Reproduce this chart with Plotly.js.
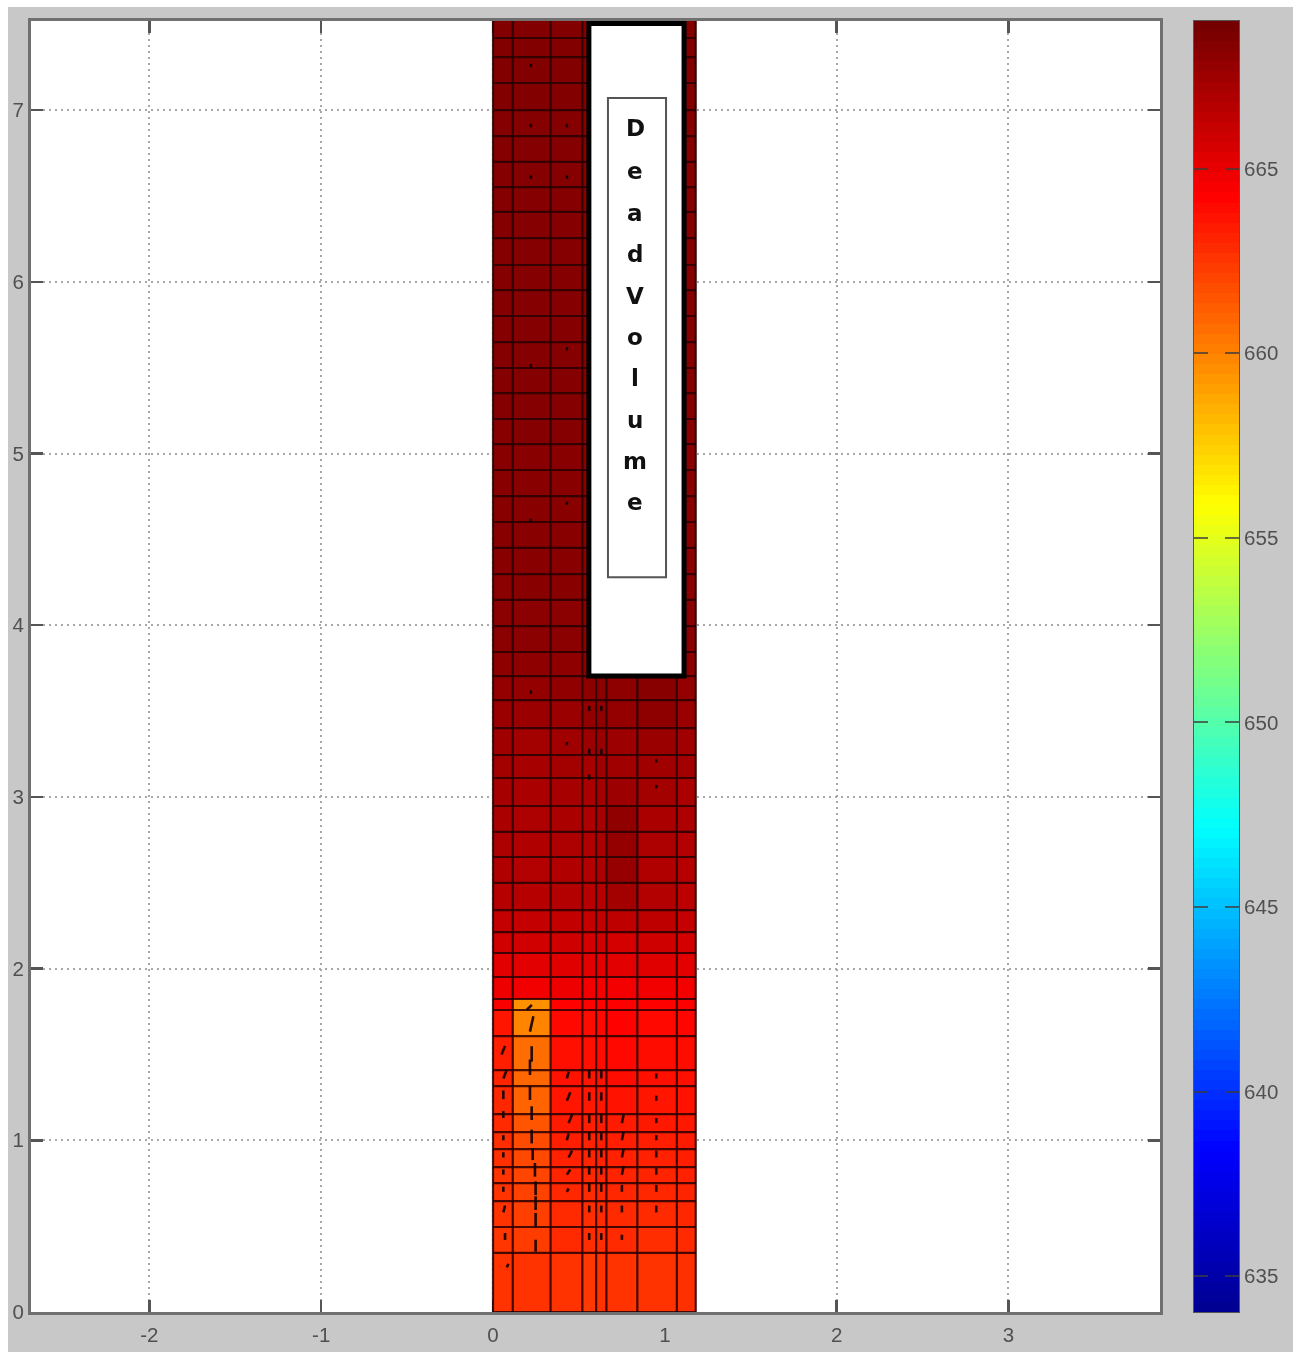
<!DOCTYPE html>
<html>
<head>
<meta charset="utf-8">
<script src="https://cdn.plot.ly/plotly-3.0.1.min.js"></script>
<style>
html,body{margin:0;padding:0;background:#fff;width:1298px;height:1356px;overflow:hidden}
#bg{position:absolute;left:8px;top:7px;width:1285px;height:1345px;background:#c8c8c8}
#chart{position:absolute;left:0;top:0;width:1298px;height:1356px;filter:blur(0.6px)}
</style>
</head>
<body>
<div id="bg"></div>
<div id="chart"></div>
<script>
const xEdges=[0,0.115,0.335,0.52,0.6,0.66,0.84,1.07,1.18];
const yEdges=[0,0.344,0.495,0.646,0.751,0.844,0.949,1.048,1.153,1.316,1.409,1.607,1.759,1.823,1.951,2.091,2.213,2.341,2.499,2.65,2.796,2.947,3.11,3.244,3.401,3.564,3.704,3.844,3.995,4.147,4.298,4.45,4.601,4.752,4.904,5.055,5.201,5.352,5.498,5.649,5.801,5.952,6.098,6.255,6.407,6.552,6.698,6.849,7.0,7.158,7.309,7.42,7.525];
const cellValues=[
[662.6,662.6,662.6,662.4,662.6,662.6,662.6,662.7],
[662.5,662.3,662.9,662.8,662.8,662.9,662.8,662.9],
[662.6,662.2,662.9,662.8,662.9,662.9,662.9,663.0],
[662.6,662.1,663.0,662.9,663.0,663.0,663.0,663.1],
[662.6,662.0,663.1,663.0,663.1,663.1,663.1,663.2],
[662.7,661.9,663.2,663.1,663.2,663.2,663.2,663.3],
[662.8,661.8,663.3,663.2,663.3,663.3,663.3,663.4],
[662.9,661.5,663.4,663.3,663.4,663.4,663.5,663.5],
[663.0,661.0,663.6,663.5,663.6,663.7,663.6,663.7],
[663.1,660.9,663.7,663.6,663.7,663.9,663.8,663.8],
[663.3,660.7,663.8,663.8,663.9,664.0,663.9,663.9],
[663.6,659.9,664.0,663.9,664.0,664.2,664.0,664.1],
[664.4,659.5,664.2,664.2,664.2,664.3,664.2,664.3],
[664.8,664.7,664.8,664.6,664.6,664.6,664.7,664.6],
[665.2,665.2,665.3,665.2,665.2,665.2,665.3,665.2],
[665.8,665.8,665.9,665.7,665.8,665.7,665.9,665.7],
[666.2,666.2,666.3,666.2,666.3,666.4,666.4,666.2],
[666.7,666.7,666.8,666.6,666.7,667.3,666.8,666.5],
[666.9,666.8,666.9,666.8,667.0,667.7,666.9,666.7],
[667.0,666.9,667.0,666.9,667.1,667.8,667.0,666.8],
[667.1,667.0,667.1,667.0,667.2,667.9,667.1,667.0],
[667.2,667.1,667.2,667.1,667.3,667.5,667.3,667.1],
[667.3,667.2,667.3,667.2,667.4,667.4,667.4,667.3],
[667.4,667.3,667.4,667.5,667.6,667.5,667.6,667.4],
[667.6,667.6,667.6,667.8,667.9,667.8,668.0,667.6],
[667.8,667.8,667.9,668.0,668.1,668.0,668.2,667.8],
[668.0,668.0,668.0,668.1,668.1,668.1,668.1,668.0],
[668.1,668.1,668.1,668.1,668.1,668.1,668.1,668.1],
[668.1,668.1,668.1,668.1,668.1,668.1,668.1,668.1],
[668.1,668.2,668.2,668.1,668.1,668.1,668.1,668.1],
[668.2,668.2,668.2,668.1,668.1,668.1,668.1,668.1],
[668.2,668.2,668.2,668.2,668.1,668.1,668.1,668.2],
[668.2,668.2,668.2,668.2,668.2,668.2,668.2,668.2],
[668.2,668.2,668.2,668.2,668.2,668.2,668.2,668.2],
[668.2,668.2,668.2,668.2,668.2,668.2,668.2,668.2],
[668.2,668.3,668.3,668.2,668.2,668.2,668.2,668.2],
[668.3,668.3,668.3,668.2,668.2,668.2,668.2,668.3],
[668.3,668.3,668.3,668.3,668.3,668.3,668.3,668.3],
[668.3,668.3,668.3,668.3,668.3,668.3,668.3,668.3],
[668.3,668.3,668.3,668.3,668.3,668.3,668.3,668.3],
[668.3,668.3,668.3,668.3,668.3,668.3,668.3,668.3],
[668.3,668.3,668.3,668.3,668.3,668.3,668.3,668.3],
[668.3,668.3,668.3,668.3,668.3,668.3,668.3,668.3],
[668.3,668.3,668.3,668.3,668.3,668.3,668.3,668.3],
[668.3,668.3,668.3,668.3,668.3,668.3,668.3,668.3],
[668.3,668.3,668.3,668.3,668.3,668.3,668.3,668.3],
[668.3,668.3,668.3,668.3,668.3,668.3,668.3,668.3],
[668.3,668.3,668.3,668.3,668.3,668.3,668.3,668.3],
[668.4,668.4,668.4,668.4,668.4,668.4,668.4,668.4],
[668.4,668.4,668.4,668.4,668.4,668.4,668.4,668.4],
[668.4,668.4,668.4,668.4,668.4,668.4,668.4,668.4],
[668.4,668.4,668.4,668.4,668.4,668.4,668.4,668.4]
];
const zMin=634.03, zMax=669.0;
const jet=[[0,'#00008f'],[0.125,'#0000ff'],[0.375,'#00ffff'],[0.625,'#ffff00'],[0.865,'#ff0000'],[1,'#700000']];
const arrowX=[0.196,0.215,0.225,0.215,0.215,0.225,0.225,0.231,0.244,0.248,0.248,0.248,0.248,
 0.05,0.06,0.06,0.06,0.06,0.06,0.06,0.06,0.06,0.07,0.08,
 0.43,0.43,0.44,0.43,0.44,0.43,0.43,
 0.56,0.56,0.56,0.56,0.56,0.56,0.56,0.56,0.56,
 0.63,0.63,0.63,0.63,0.63,0.63,0.63,0.63,0.63,
 0.75,0.75,0.75,0.75,0.75,0.75,0.75,
 0.95,0.95,0.95,0.95,0.95,0.95,0.95,0.95,
 0.22,0.22,0.43,0.22,0.43,0.22,0.43,0.22,0.43,0.22,0.43,0.56,0.56,0.56,0.63,0.63,0.95,0.95];
const arrowY=[1.759,1.633,1.458,1.38,1.235,1.118,0.982,0.885,0.788,0.681,0.594,0.497,0.351,
 1.5,1.36,1.24,1.13,1.0,0.9,0.8,0.7,0.58,0.42,0.26,
 1.36,1.23,1.1,1.0,0.9,0.8,0.7,
 1.36,1.23,1.1,1.0,0.9,0.8,0.7,0.58,0.42,
 1.36,1.23,1.1,1.0,0.9,0.8,0.7,0.58,0.42,
 1.1,1.0,0.9,0.8,0.7,0.58,0.42,
 1.36,1.23,1.1,1.0,0.9,0.8,0.7,0.58,
 7.25,6.9,6.9,6.6,6.6,5.5,5.6,4.6,4.7,3.6,3.3,3.5,3.25,3.1,3.5,3.25,3.05,3.2];
const arrowDX=[0.03,0.02,0,0,0,0,0,0,0,0,0,0,0,0.02,0.02,0,0,0,0,0,0,0.01,0,0.01,
 0.01,0.02,0.02,0.01,0.02,0.02,0.01,
 0,0,0,0,0,0,0,0,0, 0,0,0,0,0,0,0,0,0,
 0.01,0.01,0.01,0.01,0,0,0, 0,0,0,0,0,0,0,0,
 0,0,0,0,0,0,0,0,0,0,0,0,0,0,0,0,0,0];
const arrowDY=[0.03,0.09,0.09,0.09,0.08,0.08,0.08,0.07,0.08,0.08,0.08,0.08,0.07,
 0.05,0.05,0.05,0.04,0.03,0.03,0.03,0.03,0.04,0.04,0.02,
 0.04,0.05,0.05,0.04,0.04,0.03,0.02,
 0.05,0.05,0.05,0.05,0.05,0.05,0.05,0.04,0.04,
 0.05,0.05,0.05,0.05,0.05,0.05,0.05,0.04,0.04,
 0.05,0.05,0.05,0.05,0.04,0.04,0.03,
 0.03,0.03,0.03,0.03,0.04,0.04,0.04,0.04,
 0.02,0.02,0.02,0.02,0.02,0.02,0.02,0.02,0.02,0.02,0.02,0.03,0.03,0.03,0.03,0.03,0.02,0.02];
const xTicks=[-2,-1,0,1,2,3];
const xLabels=['-2','-1','0','1','2','3'];
const yTicks=[0,1,2,3,4,5,6,7];
const cbTicks=[635,640,645,650,655,660,665];
const boxLetters=['D','e','a','d','V','o','l','u','m','e'];
const letterY=[6.895,6.645,6.4,6.16,5.92,5.68,5.44,5.195,4.955,4.715];
const deadBox={x0:0.558,x1:1.112,y0:3.704,y1:7.505};
const labelBox={x0:0.669,x1:1.007,y0:4.28,y1:7.07};

const gridX=[],gridY=[];
xEdges.forEach(x=>{gridX.push(x,x,null);gridY.push(0,yEdges[yEdges.length-1],null);});
yEdges.forEach(y=>{gridX.push(0,xEdges[xEdges.length-1],null);gridY.push(y,y,null);});
const ax=[],ay=[];
arrowX.forEach((x,i)=>{ax.push(x,x+arrowDX[i],null);ay.push(arrowY[i],arrowY[i]+arrowDY[i],null);});
const rampSteps=128;
const rampEdges=[],rampValues=[];
for(let i=0;i<=rampSteps;i++){rampEdges.push(zMin+(zMax-zMin)*i/rampSteps);}
for(let i=0;i<rampSteps;i++){rampValues.push([zMin+(zMax-zMin)*(i+0.5)/rampSteps]);}

const traces=[
 {type:'heatmap',x:xEdges,y:yEdges,z:cellValues,zmin:zMin,zmax:zMax,colorscale:jet,showscale:false,hoverinfo:'z'},
 {type:'scatter',mode:'lines',x:gridX,y:gridY,hoverinfo:'skip',showlegend:false,line:{color:'rgba(40,0,0,0.85)',width:2.2}},
 {type:'scatter',mode:'lines',x:ax,y:ay,hoverinfo:'skip',showlegend:false,line:{color:'rgba(15,0,0,0.9)',width:2.6}},
 {type:'heatmap',x:[0,1],y:rampEdges,z:rampValues,xaxis:'x2',yaxis:'y2',zmin:zMin,zmax:zMax,colorscale:jet,showscale:false,hoverinfo:'skip'}
];
const font={family:'Liberation Sans, Arial, sans-serif',size:20.5,color:'#505050'};
const frame={showline:true,linecolor:'#707070',linewidth:3,mirror:'ticks',ticks:'inside',ticklen:12,tickwidth:2.5,tickcolor:'#555',
 showgrid:true,gridcolor:'#a8a8a8',griddash:'2px,4px',gridwidth:2,zeroline:false,tickfont:font,layer:'below traces'};
const shapes=[
 {type:'rect',layer:'above',xref:'x',yref:'y',...deadBox,fillcolor:'#fff',line:{color:'#000',width:5}},
 {type:'rect',layer:'above',xref:'x',yref:'y',...labelBox,fillcolor:'#fff',line:{color:'#555',width:2}}
];
const annotations=boxLetters.map((c,i)=>({xref:'x',yref:'y',x:0.827,y:letterY[i],text:c,showarrow:false,xanchor:'center',yanchor:'middle',
 font:{family:'DejaVu Sans, sans-serif',size:23,color:'#111',weight:700}}));
const layout={width:1298,height:1356,margin:{l:31,r:59,t:21,b:44,pad:0},paper_bgcolor:'rgba(0,0,0,0)',plot_bgcolor:'#fff',showlegend:false,
 xaxis:{...frame,domain:[0,1129/1208],range:[-2.689,3.882],tickmode:'array',tickvals:xTicks,ticktext:xLabels,ticklabelstandoff:2},
 yaxis:{...frame,range:[0,7.519],tickmode:'array',tickvals:yTicks,ticktext:yTicks.map(String)},
 xaxis2:{domain:[1163/1208,1],anchor:'y2',range:[0,1],showticklabels:false,ticks:'',showgrid:false,zeroline:false,showline:true,linecolor:'#555',linewidth:1,mirror:true},
 yaxis2:{anchor:'x2',side:'right',range:[zMin,zMax],tickmode:'array',tickvals:cbTicks,ticktext:cbTicks.map(String),ticks:'inside',ticklen:14,tickwidth:2,tickcolor:'rgba(60,60,60,0.75)',showgrid:false,zeroline:false,showline:true,linecolor:'#555',linewidth:1,mirror:'ticks',tickfont:font},
 shapes,annotations};
Plotly.newPlot('chart',traces,layout,{displayModeBar:false,staticPlot:true});
</script>
</body>
</html>
